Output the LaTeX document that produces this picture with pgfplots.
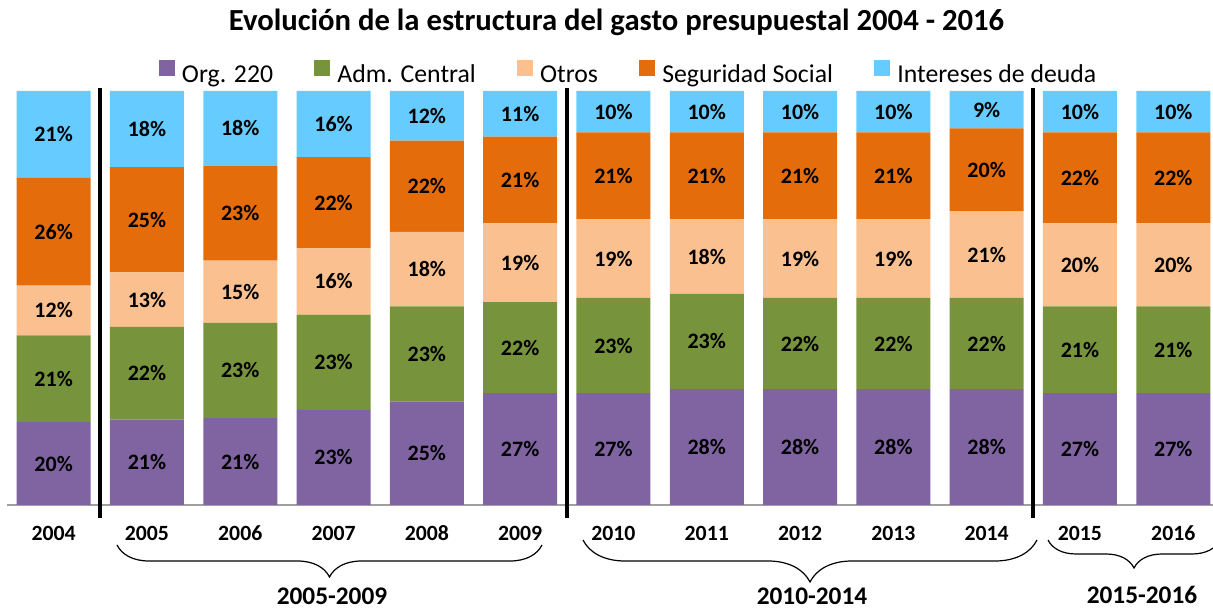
\documentclass[border=0pt]{standalone}
\usepackage{pgfplots}
\pgfplotsset{compat=1.18}
\usepackage{pgfplotstable}
\usepackage{fontspec}
\setmainfont{Carlito}
\usetikzlibrary{decorations.pathreplacing}

\definecolor{corg}{HTML}{8064A2}
\definecolor{cadm}{HTML}{77933C}
\definecolor{cotr}{HTML}{FAC090}
\definecolor{css}{HTML}{E46C0A}
\definecolor{cint}{HTML}{66CCFF}

\pgfplotstableread{
x year org adm otros ss int
0 2004 20 21 12 26 21
1 2005 20.6 22.4 13.2 25.4 18.4
2 2006 21 23 15 23 18
3 2007 23 23 16 22 16
4 2008 25 23 18 22 12
5 2009 27 22 19 21 11
6 2010 27 23 19 21 10
7 2011 28 23 18 21 10
8 2012 28 22 19 21 10
9 2013 28 22 19 21 10
10 2014 28 22 21 20 9
11 2015 27 21 20 22 10
12 2016 27 21 20 22 10
}\data

\pgfplotsset{
  base/.style={
    scale only axis, width=904.5pt, height=310.5pt,
    xmin=-0.5, xmax=12.426, ymin=0, ymax=100,
    at={(5.25pt,78.75pt)}, anchor=south west, clip=false},
  lbl/.style={draw=none, mark=none, point meta=explicit,
    nodes near coords={\textbf{\pgfmathprintnumber[fixed,precision=0,assume math mode=true]{\pgfplotspointmeta}\%}},
    every node near coord/.append style={anchor=center, text=black,
      font=\fontsize{16.5}{19}\selectfont\bfseries}}
}

\begin{document}
\begin{tikzpicture}
\useasboundingbox (0,0) rectangle (909.75pt,457.5pt);

\begin{axis}[base,
  ybar stacked, bar width=55.5pt,
  axis y line=none, axis x line*=bottom,
  x axis line style={-, draw=gray!75, line width=0.8pt},
  xtick={0,...,12}, major tick length=0pt,
  xticklabels={2004,2005,2006,2007,2008,2009,2010,2011,2012,2013,2014,2015,2016},
  xticklabel style={anchor=base, yshift=-27pt, font=\fontsize{16.3}{19}\selectfont\bfseries},
  legend style={at={(0.5145,1.0447)}, anchor=center, draw=none, fill=none,
    legend columns=-1, font=\fontsize{19.3}{22}\selectfont,
    nodes={inner sep=0pt},
    /tikz/every odd column/.style={column sep=5.5pt},
    /tikz/every even column/.style={column sep=30.75pt}},
  legend image code/.code={\fill[#1] (0pt,-1pt) rectangle (12pt,11pt);},
]
\addplot[fill=corg, draw=none] table[x=x, y=org] {\data};
\addlegendentry{Org. 220}
\addplot[fill=cadm, draw=none] table[x=x, y=adm] {\data};
\addlegendentry{Adm. Central}
\addplot[fill=cotr, draw=none] table[x=x, y=otros] {\data};
\addlegendentry{Otros}
\addplot[fill=css, draw=none] table[x=x, y=ss] {\data};
\addlegendentry{Seguridad Social}
\addplot[fill=cint, draw=none] table[x=x, y=int] {\data};
\addlegendentry{Intereses de deuda}

\draw[line width=3pt] (axis cs:0.5,100.7) -- (axis cs:0.5,-3.1);
\draw[line width=3pt] (axis cs:5.5,100.7) -- (axis cs:5.5,-3.1);
\draw[line width=3pt] (axis cs:10.5,100.7) -- (axis cs:10.5,-3.1);
\end{axis}

\begin{axis}[base, hide axis]
\addplot[lbl] table[x=x, y expr=\thisrow{org}/2, meta=org] {\data};
\addplot[lbl] table[x=x, y expr=\thisrow{org}+\thisrow{adm}/2, meta=adm] {\data};
\addplot[lbl] table[x=x, y expr=\thisrow{org}+\thisrow{adm}+\thisrow{otros}/2, meta=otros] {\data};
\addplot[lbl] table[x=x, y expr=\thisrow{org}+\thisrow{adm}+\thisrow{otros}+\thisrow{ss}/2, meta=ss] {\data};
\addplot[lbl] table[x=x, y expr=\thisrow{org}+\thisrow{adm}+\thisrow{otros}+\thisrow{ss}+\thisrow{int}/2, meta=int] {\data};
\end{axis}

\node[anchor=base, font=\fontsize{23}{26}\selectfont\bfseries] at (462.4pt,434.25pt)
  {Evolución de la estructura del gasto presupuestal 2004 - 2016};

\draw[decorate, decoration={brace, mirror, amplitude=24pt}, line width=0.9pt]
  (87.75pt,48.75pt) -- (406.5pt,48.75pt);
\draw[decorate, decoration={brace, mirror, amplitude=31.5pt}, line width=0.9pt]
  (437.25pt,52.5pt) -- (777.75pt,52.5pt);
\draw[decorate, decoration={brace, mirror, amplitude=21pt}, line width=0.9pt]
  (786pt,52.5pt) -- (915pt,52.5pt);

\node[font=\fontsize{19}{22}\selectfont\bfseries] at (249pt,10.5pt) {2005-2009};
\node[font=\fontsize{19}{22}\selectfont\bfseries] at (609pt,10.5pt) {2010-2014};
\node[font=\fontsize{19}{22}\selectfont\bfseries] at (856.5pt,11pt) {2015-2016};
\end{tikzpicture}
\end{document}
